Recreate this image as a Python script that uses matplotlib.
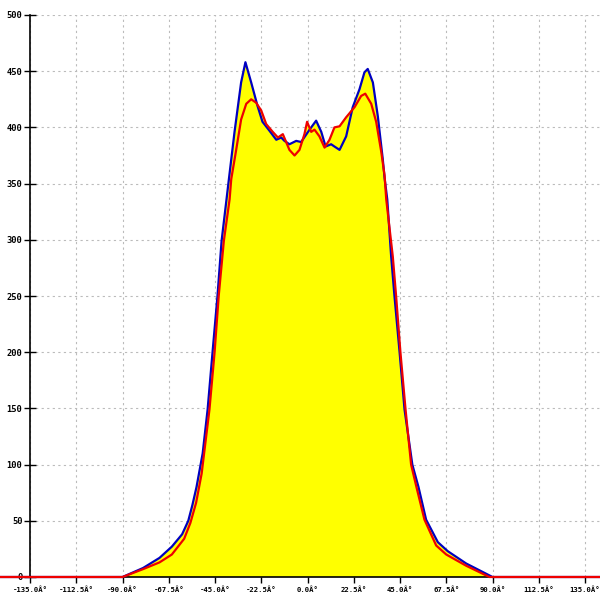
import numpy as np
import matplotlib
matplotlib.use("Agg")
import matplotlib.pyplot as plt

# ── Dados ────────────────────────────────────────────────────────────────────
blue_x = [-180, -90, -80, -72, -66, -61, -58, -56, -54, -51, -48.6, -46.2, -43.8,
          -41.8, -39.4, -38.5, -35.5, -32.3, -30.2, -27.4, -24.3, -21.9, -18.5,
          -15.2, -12.8, -11.2, -8.8, -5.5, -3.1, 1.0, 4.2, 6.7, 8.8, 11.5, 13.1,
          15.6, 18.8, 22, 25.3, 27.7, 29.3, 31.8, 34.2, 36.6, 37.5, 38.8, 40.7,
          42.3, 44.8, 47.2, 51, 54, 57.7, 63.4, 68.2, 77.2, 90, 180]
blue_y = [0, 0, 8, 17, 27, 38, 50, 64, 80, 110, 149, 200, 250,
          299, 336, 350, 396, 440, 458, 440, 419, 405, 397,
          389, 391, 388, 385, 388, 387, 398, 406, 396, 383, 385, 383,
          380, 392, 418, 434, 449, 452, 440, 410, 372, 355, 336, 285,
          250, 200, 149, 100, 80, 51, 31, 23, 12, 0, 0]

red_x = [-180, -90, -80, -72, -66, -60, -57, -54.2, -51.5, -47.7, -45.2, -43.2,
         -40.7, -37.9, -37.1, -34.7, -32.3, -29.8, -27.4, -25, -22.5, -20.1,
         -16.9, -14.4, -12, -8.8, -6.3, -3.9, -1.5, -0.2, 1.8, 3.4, 5.8, 8.3,
         10.7, 13.1, 15.6, 18.8, 22.9, 26.1, 28.1, 31, 33.4, 35.9, 37.5, 38.3,
         41.5, 43.1, 45.2, 47.7, 50.4, 53, 56.9, 62.6, 67.5, 77.2, 88.5, 180]
red_y = [0, 0, 7, 13, 20, 34, 48, 66, 92, 149, 200, 250,
         299, 336, 354, 380, 407, 421, 425, 422, 415, 403,
         396, 391, 394, 380, 375, 380, 394, 405, 396, 398, 392, 382,
         389, 400, 401, 409, 418, 428, 430, 421, 405, 378, 357, 336,
         285, 250, 200, 149, 100, 80, 51, 28, 20, 10, 0, 0]

x_ticks = np.arange(-135, 135.1, 22.5)
x_labels = [f"{t:.1f}Â°" for t in x_ticks]
y_ticks = np.arange(0, 501, 50)

# ── Figura ───────────────────────────────────────────────────────────────────
fig = plt.figure(figsize=(6, 6), dpi=100)
ax = fig.add_axes([30 / 600, 23 / 600, 570 / 600, 562 / 600])

# área amarela sob a maior das duas curvas
grid_x = np.union1d(blue_x, red_x)
top = np.maximum(np.interp(grid_x, blue_x, blue_y), np.interp(grid_x, red_x, red_y))
ax.fill_between(grid_x, 0, top, color="#FFFF00", linewidth=0, zorder=1)

ax.plot(blue_x, blue_y, color="#0000C0", linewidth=1.6, zorder=3, clip_on=False)
ax.plot(red_x, red_y, color="#EE0000", linewidth=1.6, zorder=4, clip_on=False)

ax.set_xlim(-135, -135 + 570 / 2.0556)
ax.set_ylim(0, 500)

ax.set_xticks(x_ticks)
ax.set_xticklabels(x_labels, fontsize=5.2, family="DejaVu Sans Mono", fontweight="bold")
ax.set_yticks(y_ticks)
ax.set_yticklabels([str(v) for v in y_ticks], fontsize=6.3, family="DejaVu Sans Mono",
                   fontweight="bold")

ax.tick_params(axis="y", direction="inout", length=8, width=1, pad=1.5)
ax.tick_params(axis="x", direction="out", length=4, width=1, pad=2.5)

for side in ("top", "right"):
    ax.spines[side].set_visible(False)
for side in ("left", "bottom"):
    ax.spines[side].set_linewidth(1.2)
    ax.spines[side].set_zorder(2)

ax.grid(True, color="#BBBBBB", linestyle=(0, (2, 3)), linewidth=0.8, zorder=0)
ax.set_axisbelow(True)

fig.savefig("out.png", dpi=100)
